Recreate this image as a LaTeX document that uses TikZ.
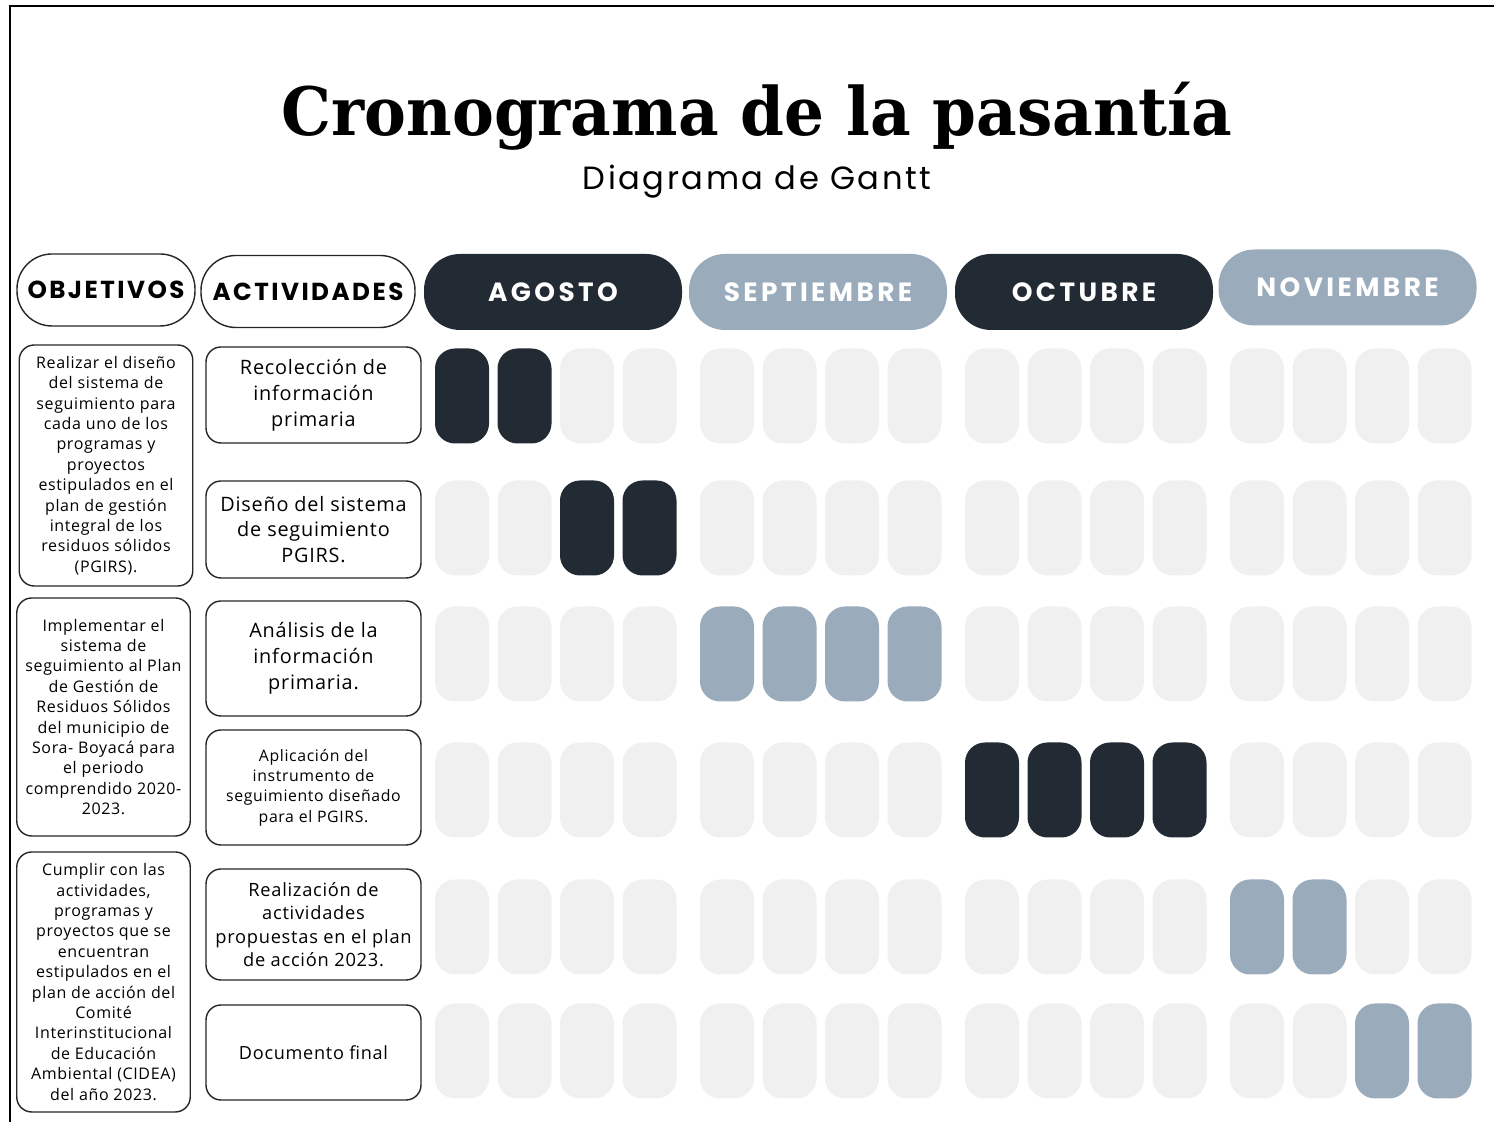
\documentclass[tikz,border=0pt]{standalone}
\usepackage{fontspec}
\setmainfont{Open Sans}
\newfontfamily\titlefont{DejaVu Serif}
\newfontfamily\subfont[LetterSpace=8]{Poppins}
\newfontfamily\headfont[LetterSpace=10]{Poppins}
\newfontfamily\monthfont[LetterSpace=13]{Poppins}
\newfontfamily\boxfont[LetterSpace=4]{Open Sans}
\usetikzlibrary{calc}

\definecolor{ink}{HTML}{222A33}
\definecolor{steel}{HTML}{9AABBB}
\definecolor{mist}{HTML}{F0F0F0}

\tikzset{
  headbox/.style={draw=black!85, line width=0.8pt, rounded corners=0.7cm, minimum height=1.44cm, font=\headfont\bfseries\fontsize{14}{16}\selectfont},
  monthbox/.style={rounded corners=0.72cm, minimum width=5.16cm, minimum height=1.52cm, text=white, font=\monthfont\bfseries\fontsize{15}{17}\selectfont},
  objbox/.style={draw=black!85, line width=0.8pt, rounded corners=0.3cm, minimum width=3.47cm, align=center, inner sep=0pt, font=\boxfont\fontsize{9.1}{11.6}\selectfont},
  actbox/.style={draw=black!85, line width=0.8pt, rounded corners=0.3cm, minimum width=4.3cm, align=center, inner sep=0pt, font=\boxfont\fontsize{11.3}{14.7}\selectfont},
  cell/.style={rounded corners=0.4cm, minimum width=1.08cm, minimum height=1.9cm, inner sep=0pt}
}

% one row of weeks: name, y, fills
\def\cellrow#1#2#3{\foreach \c [count=\i from 0] in {#3} {
    \pgfmathsetmacro\cx{9.24+5.3*int(\i/4)+1.25*mod(\i,4)}
    \node[cell, fill=\c] (#1-\i) at (\cx, #2) {};
  }}

\begin{document}
\begin{tikzpicture}
			%%%%% START %%%%%
			\useasboundingbox (0, 0) rectangle (29.88, 22.44);
			\draw[line width=1.2pt] (0.2, 0) -- (0.2, 22.32) -- (29.88, 22.32);
			
			\node[anchor=base, xscale=0.94, font=\titlefont\bfseries\fontsize{38}{40}\selectfont] (title) at (15.14, 19.72) {Cronograma de la pasantía};
			\node[anchor=base, font=\subfont\fontsize{18.3}{20}\selectfont] (subtitle) at (15.14, 18.64) {Diagrama de Gantt};
			
			\node[headbox, minimum width=3.56cm] (objetivos) at (2.12, 16.64) {OBJETIVOS};
			\node[headbox, minimum width=4.28cm] (actividades) at (6.16, 16.61) {ACTIVIDADES};
			
			\node[monthbox, fill=ink] (agosto) at (11.06, 16.6) {AGOSTO};
			\node[monthbox, fill=steel] (septiembre) at (16.36, 16.6) {SEPTIEMBRE};
			\node[monthbox, fill=ink] (octubre) at (21.68, 16.6) {OCTUBRE};
			\node[monthbox, fill=steel] (noviembre) at (26.95, 16.69) {NOVIEMBRE};
			
			\node[objbox, minimum height=4.82cm] (obj1) at (2.12, 13.13) {Realizar el diseño\\del sistema de\\seguimiento para\\cada uno de los\\programas y\\proyectos\\estipulados en el\\plan de gestión\\integral de los\\residuos sólidos\\(PGIRS).};
			\node[objbox, minimum height=4.76cm] (obj2) at (2.07, 8.1) {Implementar el\\sistema de\\seguimiento al Plan\\de Gestión de\\Residuos Sólidos\\del municipio de\\Sora- Boyacá para\\el periodo\\comprendido 2020-\\2023.};
			\node[objbox, minimum height=5.2cm] (obj3) at (2.07, 2.8) {Cumplir con las\\actividades,\\programas y\\proyectos que se\\encuentran\\estipulados en el\\plan de acción del\\Comité\\Interinstitucional\\de Educación\\Ambiental (CIDEA)\\del año 2023.};
			
			\node[actbox, minimum height=1.92cm] (act1) at (6.27, 14.54) {Recolección de\\información\\primaria};
			\node[actbox, minimum height=1.94cm] (act2) at (6.27, 11.85) {Diseño del sistema\\de seguimiento\\PGIRS.};
			\node[actbox, minimum height=2.3cm] (act3) at (6.27, 9.27) {Análisis de la\\información\\primaria.};
			\node[actbox, minimum height=2.3cm, font=\boxfont\fontsize{9}{11.6}\selectfont] (act4) at (6.27, 6.69) {Aplicación del\\instrumento de\\seguimiento diseñado\\para el PGIRS.};
			\node[actbox, minimum height=2.22cm, font=\boxfont\fontsize{10.4}{13.3}\selectfont] (act5) at (6.27, 3.95) {Realización de\\actividades\\propuestas en el plan\\de acción 2023.};
			\node[actbox, minimum height=1.9cm, font=\boxfont\fontsize{10.3}{13.3}\selectfont] (act6) at (6.27, 1.39) {Documento final};
			
			\cellrow{r1}{14.52}{ink,ink,mist,mist, mist,mist,mist,mist, mist,mist,mist,mist, mist,mist,mist,mist}
			\cellrow{r2}{11.88}{mist,mist,ink,ink, mist,mist,mist,mist, mist,mist,mist,mist, mist,mist,mist,mist}
			\cellrow{r3}{9.36}{mist,mist,mist,mist, steel,steel,steel,steel, mist,mist,mist,mist, mist,mist,mist,mist}
			\cellrow{r4}{6.64}{mist,mist,mist,mist, mist,mist,mist,mist, ink,ink,ink,ink, mist,mist,mist,mist}
			\cellrow{r5}{3.9}{mist,mist,mist,mist, mist,mist,mist,mist, mist,mist,mist,mist, steel,steel,mist,mist}
			\cellrow{r6}{1.42}{mist,mist,mist,mist, mist,mist,mist,mist, mist,mist,mist,mist, mist,mist,steel,steel}
			
			%%%%% END %%%%%
\end{tikzpicture}
\end{document}
